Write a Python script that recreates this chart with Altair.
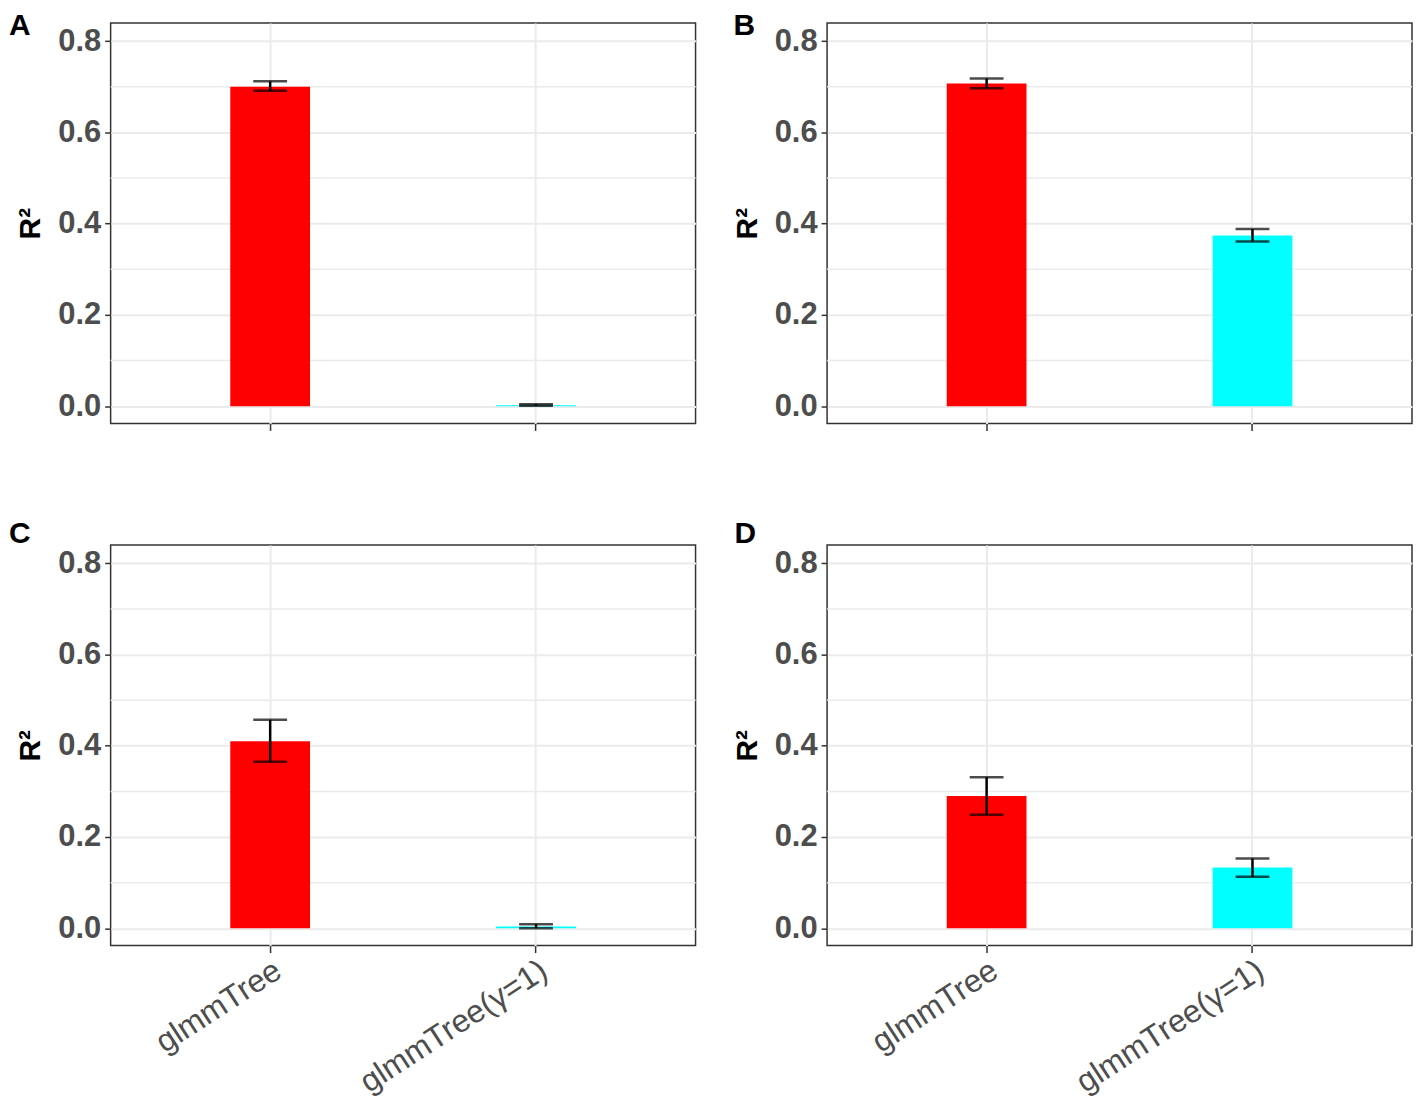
import altair as alt
import pandas as pd

PANELS = ["A", "B", "C", "D"]
MODELS = ["glmmTree", "glmmTree(γ=1)"]
COLOURS = ["#ff0000", "#00ffff"]

# mean R2 and error bar limits per panel, one entry per panel A-D
GLMM_MEAN = [0.700, 0.707, 0.410, 0.290]
GLMM_LO = [0.691, 0.697, 0.365, 0.249]
GLMM_HI = [0.712, 0.718, 0.457, 0.331]

GAMMA_MEAN = [0.002, 0.374, 0.004, 0.133]
GAMMA_LO = [0.001, 0.361, 0.000, 0.113]
GAMMA_HI = [0.004, 0.388, 0.009, 0.153]

MAJOR_TICKS = [0.0, 0.2, 0.4, 0.6, 0.8]
MINOR_TICKS = [0.1, 0.3, 0.5, 0.7]

FONT = "Liberation Sans"
GRID = "#ebebeb"

# where each panel letter sits, relative to the top-left of its plot area
LETTER_POS = {"A": (-102, 12), "B": (-94, 12), "C": (-102, -2), "D": (-93, -2)}


def build_data():
    rows = []
    for i, p in enumerate(PANELS):
        rows.append({"panel": p, "model": MODELS[0], "r2": GLMM_MEAN[i],
                     "lo": GLMM_LO[i], "hi": GLMM_HI[i]})
        rows.append({"panel": p, "model": MODELS[1], "r2": GAMMA_MEAN[i],
                     "lo": GAMMA_LO[i], "hi": GAMMA_HI[i]})
    return pd.DataFrame(rows)


def panel(df, letter, show_labels):
    d = df[df["panel"] == letter]
    yscale = alt.Scale(domain=[-0.038, 0.84], nice=False, zero=False)

    x_axis = alt.Axis(
        title=None, domain=False, bandPosition=0.5,
        ticks=True, tickColor="#333333", tickSize=7, tickWidth=1.5,
        grid=True, gridColor=GRID, gridWidth=2,
        labels=show_labels, labelAngle=327, labelAlign="right",
        labelBaseline="top", labelFontSize=32, labelColor="#4d4d4d",
        labelFont=FONT, labelPadding=2, labelLimit=0,
    )
    y_axis = alt.Axis(
        title="R²", titleFontSize=30, titleFontWeight="bold", titleColor="black",
        titleFont=FONT, titlePadding=12,
        values=MAJOR_TICKS, format=".1f", domain=False,
        labelFontSize=31, labelFontWeight="bold", labelColor="#4d4d4d",
        labelFont=FONT, labelPadding=4,
        tickColor="#333333", tickSize=6, tickWidth=1.5,
        grid=True, gridColor=GRID, gridWidth=2,
    )

    x = alt.X("model:N", sort=MODELS, axis=x_axis,
              scale=alt.Scale(paddingInner=0.7, paddingOuter=0.45))

    minor = (
        alt.Chart(pd.DataFrame({"v": MINOR_TICKS}))
        .mark_rule(color=GRID, strokeWidth=1.5)
        .encode(y=alt.Y("v:Q", scale=yscale, axis=y_axis))
    )
    bars = (
        alt.Chart(d)
        .mark_bar()
        .encode(
            x=x,
            y=alt.Y("r2:Q", scale=yscale, axis=y_axis),
            color=alt.Color("model:N", scale=alt.Scale(domain=MODELS, range=COLOURS),
                            legend=None),
        )
    )
    stems = alt.Chart(d).mark_rule(color="black", strokeWidth=2.5).encode(
        x=x, y="lo:Q", y2="hi:Q")
    cap_lo = alt.Chart(d).mark_tick(color="black", size=34, thickness=2.5).encode(
        x=x, y="lo:Q")
    cap_hi = alt.Chart(d).mark_tick(color="black", size=34, thickness=2.5).encode(
        x=x, y="hi:Q")

    lx, ly = LETTER_POS[letter]
    tag = (
        alt.Chart(pd.DataFrame({"t": [letter]}))
        .mark_text(font=FONT, fontSize=30, fontWeight="bold", color="black",
                   align="left", baseline="alphabetic")
        .encode(text="t:N", x=alt.value(lx), y=alt.value(ly))
    )

    return alt.layer(minor, bars, stems, cap_lo, cap_hi, tag).properties(
        width=587, height=402)


df = build_data()
top = alt.hconcat(panel(df, "A", False), panel(df, "B", False), spacing=34)
bottom = alt.hconcat(panel(df, "C", True), panel(df, "D", True), spacing=34)

chart = (
    alt.vconcat(top, bottom, spacing=86)
    .properties(padding=0, background="white")
    .configure_view(stroke="#333333", strokeWidth=1.5)
)

chart.save("out.html", embed_options={"renderer": "svg", "actions": False})
